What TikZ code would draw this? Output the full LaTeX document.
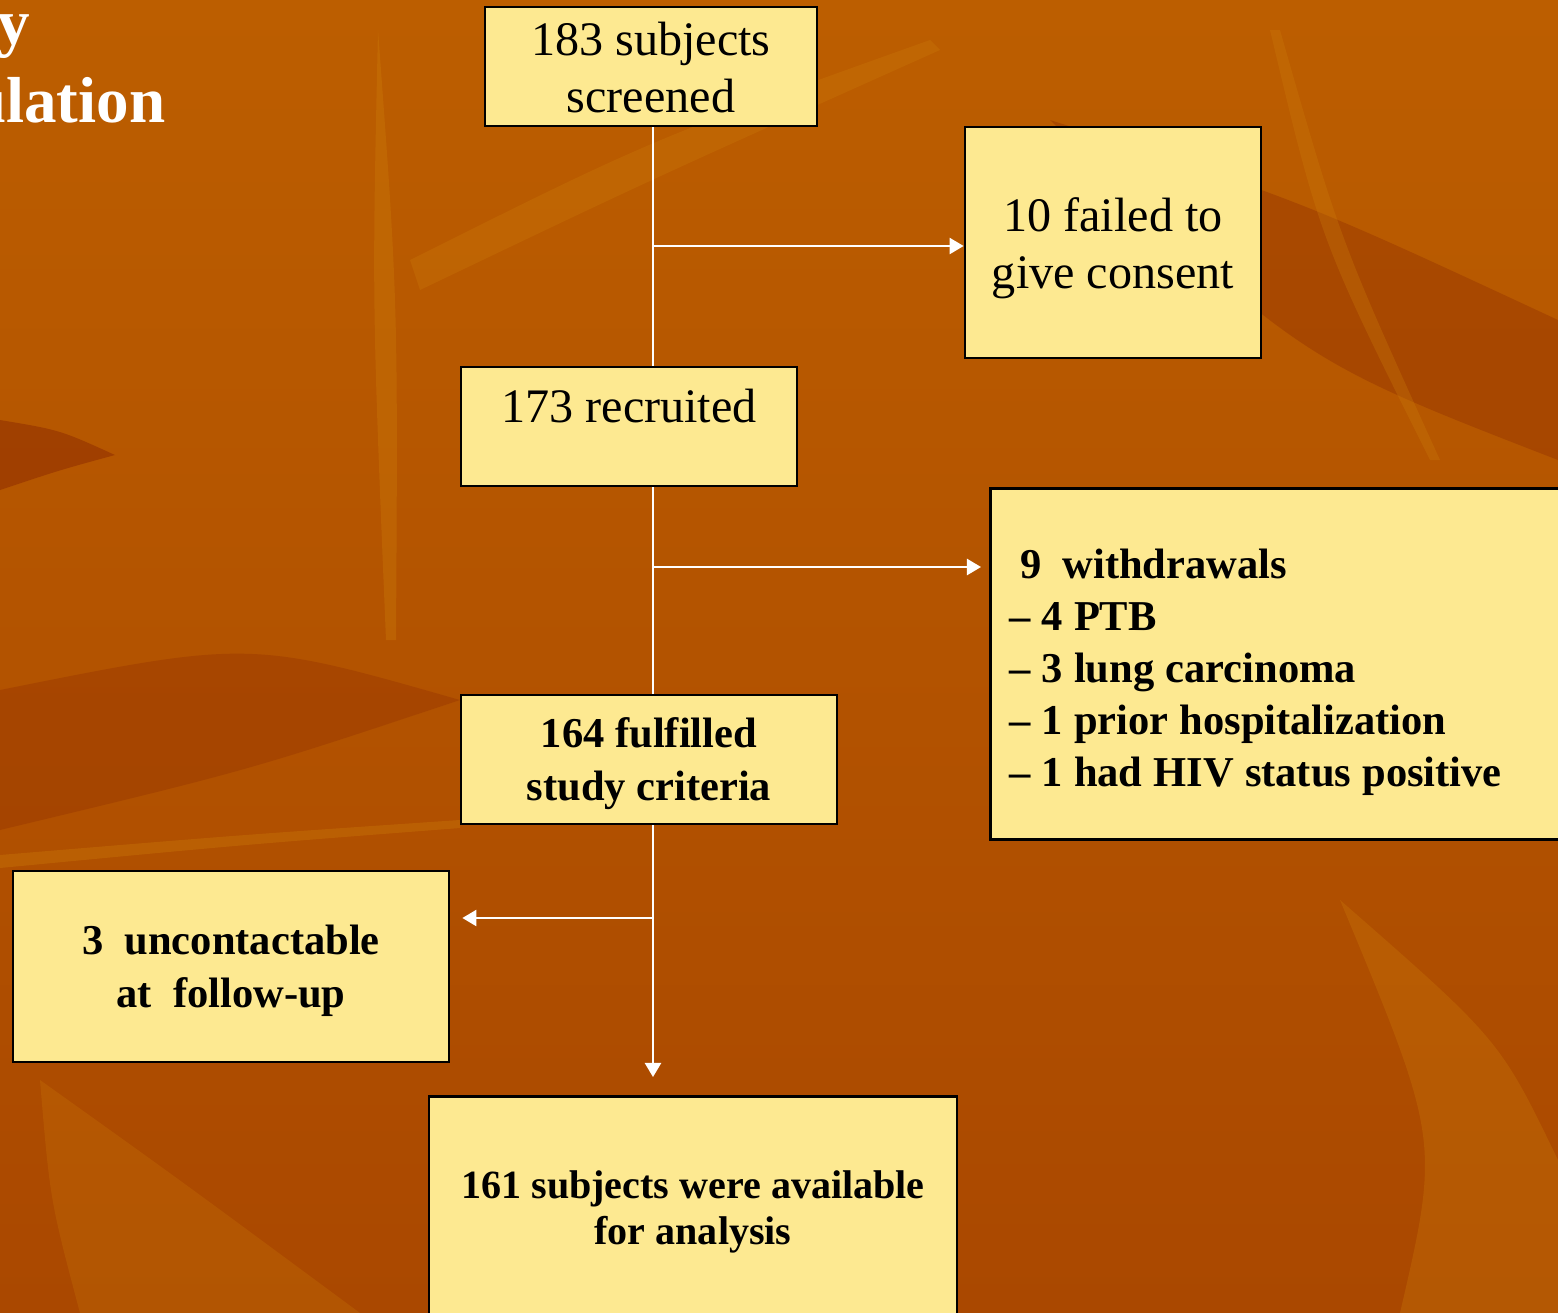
\documentclass[tikz,border=0pt]{standalone}
\usepackage{fontspec}
\setmainfont{Liberation Serif}
\usetikzlibrary{arrows.meta}

\definecolor{boxfill}{RGB}{253,233,145}
\definecolor{bgtop}{RGB}{188,94,0}
\definecolor{bgmid}{RGB}{160,62,0}
\definecolor{bgbot}{RGB}{170,72,0}
\definecolor{leaflight}{RGB}{205,125,10}
\definecolor{leafdark}{RGB}{140,42,0}

\begin{document}
\begin{tikzpicture}[>={Triangle[length=4pt,width=4.6pt]},
                    box/.style={draw=black,line width=0.8pt,fill=boxfill,inner xsep=2pt,inner ysep=0pt,align=center},
                    plain text/.style={font=\fontsize{13.7}{16.2}\selectfont},
                    bold text/.style={font=\fontsize{12.1}{14.8}\selectfont\bfseries},
                    title/.style={text=white,inner sep=0pt,font=\fontsize{18.5}{22}\selectfont\bfseries},
                    flow/.style={draw=white,line width=0.6pt}]

  \useasboundingbox (0,0) rectangle (15.58,-13.13);
  \clip (0,0) rectangle (15.58,-13.13);

  % background and leaves
  \shade[top color=bgtop,middle color=bgmid,bottom color=bgbot] (0,0) rectangle (15.58,-13.13);
  \fill[leaflight,opacity=.35] (3.78,-0.3) .. controls (3.98,-3) .. (3.96,-6.4) -- (3.86,-6.4) .. controls (3.72,-3) .. (3.78,-0.3);
  \fill[leaflight,opacity=.3] (4.2,-2.9) .. controls (6.5,-1.8) .. (9.4,-0.5) -- (9.3,-0.4) .. controls (6.5,-1.4) .. (4.1,-2.6) -- cycle;
  \fill[leafdark,opacity=.5] (0,-4.2) .. controls (0.6,-4.3) .. (1.15,-4.55) .. controls (0.6,-4.7) .. (0,-4.9) -- cycle;
  \fill[leafdark,opacity=.35] (10.5,-1.2) .. controls (13,-2) .. (15.58,-3.2) -- (15.58,-4.6) .. controls (13,-3.6) .. (10.5,-1.2);
  \fill[leaflight,opacity=.3] (12.8,-0.3) .. controls (13.4,-2.4) .. (14.4,-4.6) -- (14.3,-4.6) .. controls (13.2,-2.4) .. (12.7,-0.3);
  \fill[leaflight,opacity=.35] (0,-8.55) .. controls (2.4,-8.35) .. (4.6,-8.2) -- (4.6,-8.28) .. controls (2.4,-8.45) .. (0,-8.68) -- cycle;
  \fill[leaflight,opacity=.3] (13.4,-9) .. controls (15,-10.4) .. (15.58,-11.6) -- (15.58,-13.13) -- (14,-13.13) .. controls (14.4,-11.4) .. (13.4,-9);
  \fill[leaflight,opacity=.25] (0.4,-10.8) .. controls (1.8,-11.8) .. (3.6,-13.13) -- (0.8,-13.13) .. controls (0.5,-12) .. (0.4,-10.8);
  \fill[leafdark,opacity=.3] (0,-6.9) .. controls (2.5,-6.4) .. (4.6,-7.0) .. controls (2.5,-7.7) .. (0,-8.3) -- cycle;

  % title
  \node[title,anchor=base east] (ttl1) at (0.31,-0.44) {y};
  \node[title,anchor=base east] (ttl2) at (1.66,-1.22) {ulation};

  % boxes (text height is measured to the last line)
  \node[box,plain text,minimum width=3.32cm,text height=1.05cm,text depth=0.14cm] (screened) at (6.51,-0.665) {183 subjects\\screened};
  \node[box,plain text,minimum width=2.96cm,text height=1.61cm,text depth=0.70cm] (consent) at (11.13,-2.425) {10 failed to\\give consent};
  \node[box,plain text,minimum width=3.36cm,text height=0.55cm,text depth=0.64cm] (recruited) at (6.29,-4.265) {173 recruited};
  \node[box,bold text,anchor=north west,text width=5.43cm,
        inner xsep=0.19cm,align=left,text height=0.90cm,text depth=2.61cm] (withdrawn) at (9.89,-4.87)
        {\spaceskip=0.26em\relax\hspace*{0.25em}9\hspace{0.5em}withdrawals\\– 4 PTB\\– 3 lung carcinoma\\– 1 prior hospitalization\\– 1 had HIV status positive};
  \node[box,bold text,minimum width=3.76cm,text height=1.05cm,text depth=0.24cm] (criteria) at (6.49,-7.595) {164 fulfilled\\study criteria};
  \node[box,bold text,minimum width=4.36cm,text height=1.36cm,text depth=0.55cm] (lost) at (2.31,-9.665) {3\ \ uncontactable\\at\ \ follow-up};
  \node[box,font=\fontsize{11.4}{13.1}\selectfont\bfseries,anchor=north,minimum width=5.28cm,
        text height=1.48cm,text depth=0.87cm] (analysis) at (6.93,-10.95) {161 subjects were available\\for analysis};

  % flow lines
  \coordinate (split1) at (6.53,-2.46);
  \coordinate (split2) at (6.53,-5.67);
  \coordinate (split3) at (6.53,-9.18);

  \draw[flow] (screened.south -| split1) -- (recruited.north -| split1);
  \draw[flow,->] (split1) -- (split1 -| consent.west);
  \draw[flow] (recruited.south -| split2) -- (criteria.north -| split2);
  \draw[flow,->,shorten >=0.08cm] (split2) -- (split2 -| withdrawn.west);
  \draw[flow,->,shorten >=0.18cm] (criteria.south -| split3) -- (analysis.north -| split3);
  \draw[flow,->,shorten >=0.12cm] (split3) -- (split3 -| lost.east);
\end{tikzpicture}
\end{document}
